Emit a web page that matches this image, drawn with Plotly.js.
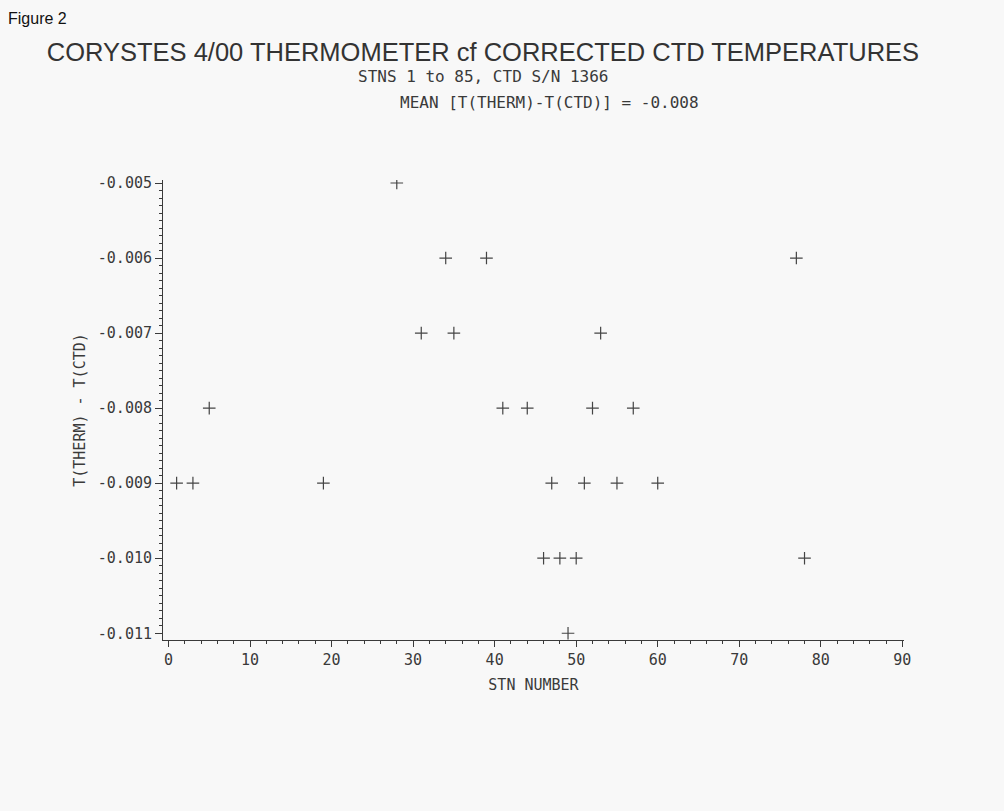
<!DOCTYPE html>
<html>
<head>
<meta charset="utf-8">
<script src="https://cdn.plot.ly/plotly-3.0.1.min.js"></script>
<style>
  html, body { margin: 0; padding: 0; background: #f8f8f8; }
  #chart { width: 1004px; height: 811px; }
</style>
</head>
<body>
<div id="chart"></div>
<script>
// Station numbers and thermometer minus CTD temperature differences
const stations = [1, 3, 5, 19, 28, 31, 34, 35, 39, 41, 44, 46, 47, 48, 49, 50, 51, 52, 53, 55, 57, 60, 77, 78];
const tempDiff = [-0.009, -0.009, -0.008, -0.009, -0.005, -0.007, -0.006, -0.007, -0.006, -0.008, -0.008, -0.010,
                  -0.009, -0.010, -0.011, -0.010, -0.009, -0.008, -0.007, -0.009, -0.008, -0.009, -0.006, -0.010];

const xTickVals = [0, 10, 20, 30, 40, 50, 60, 70, 80, 90];
const xTickText = ["0", "10", "20", "30", "40", "50", "60", "70", "80", "90"];
const yTickVals = [-0.005, -0.006, -0.007, -0.008, -0.009, -0.010, -0.011];
const yTickText = ["-0.005", "-0.006", "-0.007", "-0.008", "-0.009", "-0.010", "-0.011"];

const ink = '#3a3a3a';
const mono = 'DejaVu Sans Mono, monospace';

const trace = {
  x: stations,
  y: tempDiff,
  type: 'scatter',
  mode: 'markers',
  marker: { symbol: 'cross-thin', size: 9, line: { width: 1.2, color: '#444' }, color: '#444' },
  hoverinfo: 'x+y',
  showlegend: false
};

const layout = {
  width: 1004,
  height: 811,
  margin: { l: 163, r: 100, t: 180, b: 171 },
  paper_bgcolor: '#f8f8f8',
  plot_bgcolor: '#f8f8f8',
  showlegend: false,
  title: {
    text: 'CORYSTES 4/00 THERMOMETER cf CORRECTED CTD TEMPERATURES',
    x: 0.481, xanchor: 'center',
    xref: 'container', yref: 'container',
    y: 1 - 52 / 811, yanchor: 'middle',
    font: { family: 'Liberation Sans, Arial, sans-serif', size: 25.5, color: '#333' }
  },
  xaxis: {
    range: [-0.67, 90.2],
    tickmode: 'array',
    tickvals: xTickVals,
    ticktext: xTickText,
    ticks: 'outside', ticklen: 6, tickwidth: 1, tickcolor: ink,
    minor: { ticks: 'outside', dtick: 2, tick0: 0, ticklen: 3, tickwidth: 1, tickcolor: ink, showgrid: false },
    showline: true, linecolor: ink, linewidth: 1,
    showgrid: false, zeroline: false,
    tickfont: { family: mono, size: 15, color: ink },
    title: { text: 'STN NUMBER', standoff: 11, font: { family: mono, size: 15, color: ink } }
  },
  yaxis: {
    range: [-0.01109, -0.00496],
    tickmode: 'array',
    tickvals: yTickVals,
    ticktext: yTickText,
    ticks: 'outside', ticklen: 7, tickwidth: 1, tickcolor: ink,
    minor: { ticks: 'outside', dtick: 0.0001, tick0: 0, ticklen: 3, tickwidth: 1, tickcolor: ink, showgrid: false },
    showline: true, linecolor: ink, linewidth: 1,
    showgrid: false, zeroline: false,
    tickfont: { family: mono, size: 15, color: ink },
    title: { text: 'T(THERM) - T(CTD)', standoff: 8, font: { family: mono, size: 15, color: ink } }
  },
  annotations: [
    { text: 'Figure 2', xref: 'paper', yref: 'paper', x: -0.2119, y: 1.352, xanchor: 'left', yanchor: 'middle',
      showarrow: false, font: { family: 'Liberation Sans, Arial, sans-serif', size: 16, color: '#111' } },
    { text: 'STNS 1 to 85, CTD S/N 1366', xref: 'paper', yref: 'paper', x: 0.432, y: 1.226, xanchor: 'center', yanchor: 'middle',
      showarrow: false, font: { family: mono, size: 16, color: ink } },
    { text: 'MEAN [T(THERM)-T(CTD)] = -0.008', xref: 'paper', yref: 'paper', x: 0.521, y: 1.1676, xanchor: 'center', yanchor: 'middle',
      showarrow: false, font: { family: mono, size: 16, color: ink } }
  ]
};

Plotly.newPlot('chart', [trace], layout, { displayModeBar: false, staticPlot: true });
</script>
</body>
</html>
